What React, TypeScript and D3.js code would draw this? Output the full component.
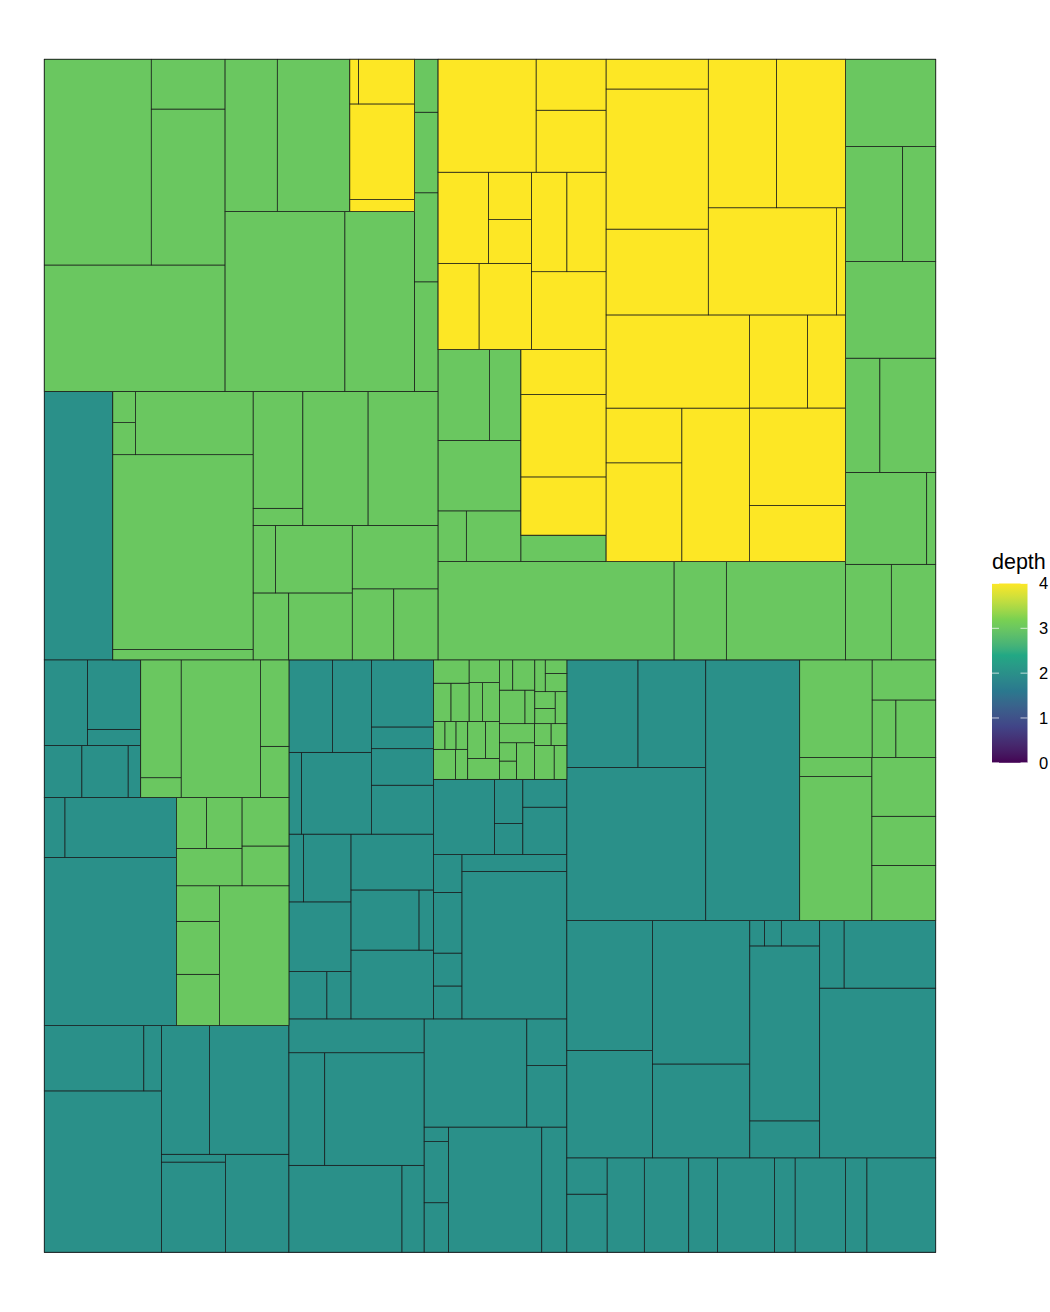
import React from "react";
import * as d3 from "d3";

type Leaf = [string, number];

// ---- flare class hierarchy (leaf sizes) ----
const cluster: Leaf[] = [["AgglomerativeCluster", 3938], ["CommunityStructure", 3812], ["HierarchicalCluster", 6714], ["MergeEdge", 743]];
const graph: Leaf[] = [["BetweennessCentrality", 3534], ["LinkDistance", 5731], ["MaxFlowMinCut", 7840], ["ShortestPaths", 5914], ["SpanningTree", 3416]];
const optimization: Leaf[] = [["AspectRatioBanker", 7074]];

const animateLeaves: Leaf[] = [["Easing", 17010], ["FunctionSequence", 5842], ["ISchedulable", 1041], ["Parallel", 5176], ["Pause", 449], ["Scheduler", 5593], ["Sequence", 5534], ["Transition", 9201], ["Transitioner", 19975], ["TransitionEvent", 1116], ["Tween", 6006]];
const interpolate: Leaf[] = [["ArrayInterpolator", 1983], ["ColorInterpolator", 2047], ["DateInterpolator", 1375], ["Interpolator", 8746], ["MatrixInterpolator", 2202], ["NumberInterpolator", 1382], ["ObjectInterpolator", 1629], ["PointInterpolator", 1675], ["RectangleInterpolator", 2042]];

const dataLeaves: Leaf[] = [["DataField", 1759], ["DataSchema", 2165], ["DataSet", 586], ["DataSource", 3331], ["DataTable", 772], ["DataUtil", 3322]];
const converters: Leaf[] = [["Converters", 721], ["DelimitedTextConverter", 4294], ["GraphMLConverter", 9800], ["IDataConverter", 1314], ["JSONConverter", 2220]];

const displayLeaves: Leaf[] = [["DirtySprite", 8833], ["LineSprite", 1732], ["RectSprite", 3623], ["TextSprite", 10066]];
const flexLeaves: Leaf[] = [["FlareVis", 4116]];
const physicsLeaves: Leaf[] = [["DragForce", 1082], ["GravityForce", 1336], ["IForce", 319], ["NBodyForce", 10498], ["Particle", 2822], ["Simulation", 9983], ["Spring", 2213], ["SpringForce", 1681]];

const queryLeaves: Leaf[] = [["AggregateExpression", 1616], ["And", 1027], ["Arithmetic", 3891], ["Average", 891], ["BinaryExpression", 2893], ["Comparison", 5103], ["CompositeExpression", 3677], ["Count", 781], ["DateUtil", 4141], ["Distinct", 933], ["Expression", 5130], ["ExpressionIterator", 3617], ["Fn", 3240], ["If", 2732], ["IsA", 2039], ["Literal", 1214], ["Match", 3748], ["Maximum", 843], ["Minimum", 843], ["Not", 1554], ["Or", 970], ["Query", 13896], ["Range", 1594], ["StringUtil", 4130], ["Sum", 791], ["Variable", 1124], ["Variance", 1876], ["Xor", 1101]];
const methods: Leaf[] = [["add", 593], ["and", 330], ["average", 287], ["count", 277], ["distinct", 292], ["div", 595], ["eq", 594], ["fn", 460], ["gt", 603], ["gte", 625], ["iff", 748], ["isa", 461], ["lt", 597], ["lte", 619], ["max", 283], ["min", 283], ["mod", 591], ["mul", 603], ["neq", 599], ["not", 386], ["or", 323], ["orderby", 307], ["range", 772], ["select", 296], ["stddev", 363], ["sub", 600], ["sum", 280], ["update", 307], ["variance", 335], ["where", 299], ["xor", 354], ["_", 264]];

const scaleLeaves: Leaf[] = [["IScaleMap", 2105], ["LinearScale", 1316], ["LogScale", 3151], ["OrdinalScale", 3770], ["QuantileScale", 2435], ["QuantitativeScale", 4839], ["RootScale", 1756], ["Scale", 4268], ["ScaleType", 1821], ["TimeScale", 5833]];

const utilLeaves: Leaf[] = [["Arrays", 8258], ["Colors", 10001], ["Dates", 8217], ["Displays", 12555], ["Filter", 2324], ["Geometry", 10993], ["IEvaluable", 335], ["IPredicate", 383], ["IValueProxy", 874], ["Maths", 17705], ["Orientation", 1486], ["Property", 5559], ["Shapes", 19118], ["Sort", 6887], ["Stats", 6557], ["Strings", 22026]];
const heap: Leaf[] = [["FibonacciHeap", 9354], ["HeapNode", 1233]];
const math: Leaf[] = [["DenseMatrix", 3165], ["IMatrix", 2815], ["SparseMatrix", 3366]];
const palette: Leaf[] = [["ColorPalette", 6367], ["Palette", 1229], ["ShapePalette", 2059], ["SizePalette", 2291]];

const visLeaves: Leaf[] = [["Visualization", 16540]];
const axis: Leaf[] = [["Axes", 1302], ["Axis", 24593], ["AxisGridLine", 652], ["AxisLabel", 636], ["CartesianAxes", 6703]];
const controls: Leaf[] = [["AnchorControl", 2138], ["ClickControl", 3824], ["Control", 1353], ["ControlList", 4665], ["DragControl", 2649], ["ExpandControl", 2832], ["HoverControl", 4896], ["IControl", 763], ["PanZoomControl", 5222], ["SelectionControl", 7862], ["TooltipControl", 8435]];
const visDataLeaves: Leaf[] = [["Data", 20544], ["DataList", 19788], ["DataSprite", 10349], ["EdgeSprite", 3301], ["NodeSprite", 19382], ["ScaleBinding", 11275], ["Tree", 7147], ["TreeBuilder", 9930]];
const render: Leaf[] = [["ArrowType", 698], ["EdgeRenderer", 5569], ["IRenderer", 353], ["ShapeRenderer", 2247]];
const events: Leaf[] = [["DataEvent", 2313], ["SelectionEvent", 1880], ["TooltipEvent", 1701], ["VisualizationEvent", 1117]];
const legend: Leaf[] = [["Legend", 20859], ["LegendItem", 4614], ["LegendRange", 10530]];
const operatorLeaves: Leaf[] = [["IOperator", 1286], ["Operator", 2490], ["OperatorList", 5248], ["OperatorSequence", 4190], ["OperatorSwitch", 2581], ["SortOperator", 2023]];
const distortion: Leaf[] = [["BifocalDistortion", 4461], ["Distortion", 6314], ["FisheyeDistortion", 3444]];
const encoder: Leaf[] = [["ColorEncoder", 3179], ["Encoder", 4060], ["PropertyEncoder", 4138], ["ShapeEncoder", 1690], ["SizeEncoder", 1830]];
const filter: Leaf[] = [["FisheyeTreeFilter", 5219], ["GraphDistanceFilter", 3165], ["VisibilityFilter", 3509]];
const label: Leaf[] = [["Labeler", 9956], ["RadialLabeler", 3899], ["StackedAreaLabeler", 3202]];
const layout: Leaf[] = [["AxisLayout", 6725], ["BundledEdgeRouter", 3727], ["CircleLayout", 9317], ["CirclePackingLayout", 12003], ["DendrogramLayout", 4853], ["ForceDirectedLayout", 8411], ["IcicleTreeLayout", 4864], ["IndentedTreeLayout", 3174], ["Layout", 7881], ["NodeLinkTreeLayout", 12870], ["PieLayout", 2728], ["RadialTreeLayout", 12348], ["RandomLayout", 870], ["StackedAreaLayout", 9121], ["TreeMapLayout", 9191]];

const legendTicks = [0, 1, 2, 3, 4];
const viridis6 = ["#440154", "#414487", "#2A788E", "#22A884", "#7AD151", "#FDE725"];

type TNode = { name: string; value?: number; children?: TNode[] };
const pkg = (name: string, leaves: Leaf[], subs: TNode[] = []): TNode => ({
  name,
  children: [...leaves.map(([n, v]) => ({ name: n, value: v })), ...subs],
});

const flare: TNode = pkg("flare", [], [
  pkg("animate", animateLeaves, [pkg("interpolate", interpolate)]),
  pkg("data", dataLeaves, [pkg("converters", converters)]),
  pkg("display", displayLeaves),
  pkg("flex", flexLeaves),
  pkg("physics", physicsLeaves),
  pkg("query", queryLeaves, [pkg("methods", methods)]),
  pkg("scale", scaleLeaves),
  pkg("util", utilLeaves, [pkg("heap", heap), pkg("math", math), pkg("palette", palette)]),
  pkg("vis", visLeaves, [
    pkg("axis", axis),
    pkg("controls", controls),
    pkg("data", visDataLeaves, [pkg("render", render)]),
    pkg("events", events),
    pkg("legend", legend),
    pkg("operator", operatorLeaves, [
      pkg("distortion", distortion),
      pkg("encoder", encoder),
      pkg("filter", filter),
      pkg("label", label),
      pkg("layout", layout),
    ]),
  ]),
  pkg("analytics", [], [pkg("cluster", cluster), pkg("graph", graph), pkg("optimization", optimization)]),
]);

// split tiling (binary split on cumulative weight, along the longer side, y pointing up)
function splitNodes(nodes: any[], x0: number, y0: number, x1: number, y1: number) {
  if (nodes.length === 0) return;
  if (nodes.length === 1) {
    const n = nodes[0];
    n.x0 = x0; n.y0 = y0; n.x1 = x1; n.y1 = y1;
    return;
  }
  const total = d3.sum(nodes, (n: any) => n.value);
  const half = total / 2;
  let w1 = 0;
  let i = 0;
  while (i < nodes.length - 1 && w1 + nodes[i].value / 2 < half) {
    w1 += nodes[i].value;
    i++;
  }
  if (i === 0) { w1 = nodes[0].value; i = 1; }
  const l1 = nodes.slice(0, i);
  const l2 = nodes.slice(i);
  const w = x1 - x0, h = y1 - y0;
  if (w > h) {
    const xm = x0 + (w * w1) / total;
    splitNodes(l1, x0, y0, xm, y1);
    splitNodes(l2, xm, y0, x1, y1);
  } else {
    const ym = y0 + (h * w1) / total;
    splitNodes(l1, x0, y0, x1, ym);
    splitNodes(l2, x0, ym, x1, y1);
  }
}
const splitTile = (parent: any, x0: number, y0: number, x1: number, y1: number) =>
  splitNodes(parent.children, x0, y0, x1, y1);

export default function App() {
  const W = 1050, H = 1312;
  const root = d3.hierarchy<TNode>(flare).sum((d) => d.value ?? 0);
  d3.treemap<TNode>().size([1, 1]).tile(splitTile as any)(root);
  const nodes = (root.descendants() as any[]).slice().sort((a, b) => a.depth - b.depth);

  const x = d3.scaleLinear().domain([0, 1]).range([44.3, 935.7]);
  const y = d3.scaleLinear().domain([0, 1]).range([1252.2, 59.3]);
  const color = d3
    .scaleLinear<string>()
    .domain([0, 0.8, 1.6, 2.4, 3.2, 4])
    .range(viridis6)
    .interpolate(d3.interpolateLab);

  const barX = 992, barW = 35.5, barTop = 583.5, barBot = 762.8;
  const ly = d3.scaleLinear().domain([0, 4]).range([barBot, barTop]);
  const stops = d3.range(0, 41).map((k) => k / 10);

  return (
    <svg width={W} height={H} style={{ position: "absolute", left: 0, top: 0, background: "#fff" }}
      fontFamily="'Liberation Sans', Arial, sans-serif">
      <rect x={0} y={0} width={W} height={H} fill="#fff" />
      <g>
        {nodes.map((n, i) => (
          <rect key={i}
            x={x(n.x0)} y={y(n.y1)}
            width={x(n.x1) - x(n.x0)} height={y(n.y0) - y(n.y1)}
            fill={color(n.depth)} stroke="#1a1a1a" strokeWidth={0.7} />
        ))}
      </g>
      <defs>
        <linearGradient id="depthGrad" x1="0" y1="1" x2="0" y2="0">
          {stops.map((s) => (
            <stop key={s} offset={`${(s / 4) * 100}%`} stopColor={color(s)} />
          ))}
        </linearGradient>
      </defs>
      <text x={992} y={568.5} fontSize={21.5} fill="#000">depth</text>
      <rect x={barX} y={barTop} width={barW} height={barBot - barTop} fill="url(#depthGrad)" />
      {legendTicks.map((t) => (
        <g key={t}>
          <line x1={barX} x2={barX + 7} y1={ly(t)} y2={ly(t)} stroke="#fff" strokeOpacity={0.7} strokeWidth={1} />
          <line x1={barX + barW - 7} x2={barX + barW} y1={ly(t)} y2={ly(t)} stroke="#fff" strokeOpacity={0.7} strokeWidth={1} />
          <text x={1039} y={ly(t)} dy="0.36em" fontSize={16.5} fill="#000">{t}</text>
        </g>
      ))}
    </svg>
  );
}
